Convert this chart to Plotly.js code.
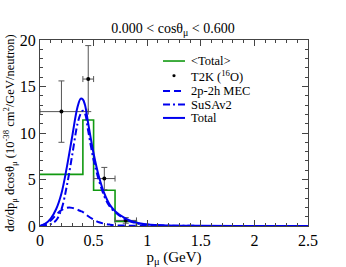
<!DOCTYPE html>
<html><head><meta charset="utf-8">
<script src="https://cdn.plot.ly/plotly-3.0.1.min.js"></script>
<style>html,body{margin:0;padding:0;background:#fff}#c{width:346px;height:267px}</style>
</head><body><div id="c"></div>
<script>
// Bin-averaged total (histogram)
const binEdges = [0, 0.4, 0.5, 0.7, 0.9];
const binTotal = [5.55, 11.4, 3.85, 0.5];
// T2K data
const dataX = [0.2, 0.45, 0.6, 0.8];
const dataY = [12.3, 15.8, 5.1, 0.6];
const dataErrYPlus = [3.3, 3.6, 1.2, 0.3];
const dataErrYMinus = [3.3, 3.5, 1.2, 0.3];
const dataErrXPlus = [0.25, 0.05, 0.1, 0.1];
const dataErrXMinus = [0.2, 0.05, 0.1, 0.1];
// Model curves
const pmu = [0, 0.05, 0.1, 0.15, 0.2, 0.25, 0.3, 0.35, 0.38, 0.4, 0.42, 0.45, 0.5, 0.55, 0.6, 0.65, 0.7, 0.8, 0.9, 1.0, 1.2, 1.5, 2.0, 2.5];
const mec = [0, 0.2, 0.6, 1.2, 1.7, 1.95, 1.95, 1.75, 1.6, 1.5, 1.35, 1.05, 0.7, 0.4, 0.25, 0.15, 0.08, 0.04, 0.02, 0.01, 0, 0, 0, 0];
const susa = [0, 0.05, 0.2, 0.6, 1.8, 4.3, 7.6, 11.0, 12.1, 12.4, 12.1, 10.2, 7.1, 4.9, 3.2, 2.1, 1.5, 0.7, 0.3, 0.15, 0.05, 0.01, 0, 0];
const total = [0, 0.25, 0.8, 1.8, 3.5, 6.3, 9.6, 12.8, 13.7, 13.6, 13.0, 11.0, 7.8, 5.3, 3.5, 2.3, 1.6, 0.8, 0.35, 0.17, 0.06, 0.02, 0, 0];
// Legend labels
const legendNames = ['&lt;Total&gt;', 'T2K (<sup>16</sup>O)', '2p-2h MEC', 'SuSAv2', 'Total'];

const hx = [], hy = [];
for (let i = 0; i < binTotal.length; i++) { hx.push(binEdges[i], binEdges[i+1]); hy.push(binTotal[i], binTotal[i]); }
hx.push(binEdges[binEdges.length-1]); hy.push(0);

const serif = "'Liberation Serif', 'Times New Roman', Times, serif";
const green = '#119911', blue = '#0000ee';
const dashMEC = '7px,4px', dashSuSA = '7px,3px,2px,3px';
const traces = [
  {x: hx, y: hy, mode: 'lines', name: legendNames[0], line: {color: green, width: 1.6}},
  {x: dataX, y: dataY, mode: 'markers', name: legendNames[1], marker: {color: 'black', size: 4},
   error_y: {type: 'data', array: dataErrYPlus, arrayminus: dataErrYMinus, color: '#555', thickness: 1, width: 3},
   error_x: {type: 'data', array: dataErrXPlus, arrayminus: dataErrXMinus, color: '#555', thickness: 1, width: 3}},
  {x: pmu, y: mec, mode: 'lines', name: legendNames[2], line: {color: blue, width: 2, dash: dashMEC, shape: 'spline'}},
  {x: pmu, y: susa, mode: 'lines', name: legendNames[3], line: {color: blue, width: 2, dash: dashSuSA, shape: 'spline'}},
  {x: pmu, y: total, mode: 'lines', name: legendNames[4], line: {color: blue, width: 2, shape: 'spline'}}
];

// Hand-placed legend (compact spacing as in the reference)
const rowY = [0.887, 0.808, 0.726, 0.653, 0.581];
const lx0 = 0.459, lx1 = 0.541, tx = 0.56;
const shapes = [], annotations = [];
const legStyles = [
  {color: green, width: 1.6, dash: 'solid'}, null,
  {color: blue, width: 2, dash: dashMEC}, {color: blue, width: 2, dash: dashSuSA}, {color: blue, width: 2, dash: 'solid'}
];
legStyles.forEach((s, i) => {
  if (s) shapes.push({type: 'line', xref: 'paper', yref: 'paper', x0: lx0, x1: lx1, y0: rowY[i], y1: rowY[i], line: s});
  annotations.push({xref: 'paper', yref: 'paper', x: tx, y: rowY[i], xanchor: 'left', yanchor: 'middle', showarrow: false,
    text: legendNames[i], font: {size: 12.5, family: serif, color: 'black'}, borderpad: 0});
});
shapes.push({type: 'circle', xref: 'paper', yref: 'paper', x0: 0.5 - 0.006, x1: 0.5 + 0.006, y0: rowY[1] - 0.008, y1: rowY[1] + 0.008,
  fillcolor: 'black', line: {width: 0}});

const layout = {
  width: 346, height: 267,
  margin: {l: 40, r: 38, t: 40, b: 41},
  paper_bgcolor: 'white', plot_bgcolor: 'white',
  font: {family: serif, color: 'black'},
  title: {text: '0.000 &lt; cosθ<sub>μ</sub> &lt; 0.600', font: {size: 14, family: serif}, x: 0.5, xanchor: 'center', y: 0.893, yanchor: 'middle', yref: 'container'},
  showlegend: false,
  shapes: shapes, annotations: annotations,
  xaxis: {range: [0, 2.5], tickvals: [0, 0.5, 1, 1.5, 2, 2.5], ticktext: ['0', '0.5', '1', '1.5', '2', '2.5'],
    ticks: 'inside', ticklen: 6, tickcolor: '#444', mirror: 'ticks', showline: true, linecolor: '#444', linewidth: 1,
    showgrid: false, zeroline: false, tickfont: {size: 16, family: serif},
    minor: {dtick: 0.1, ticks: 'inside', ticklen: 3, tickcolor: '#444', showgrid: false},
    title: {text: 'p<sub>μ</sub> (GeV)', font: {size: 15, family: serif}, standoff: 2}},
  yaxis: {range: [0, 20], tickvals: [0, 5, 10, 15, 20], ticks: 'inside', ticklen: 6, tickcolor: '#444', mirror: 'ticks',
    showline: true, linecolor: '#444', linewidth: 1, showgrid: false, zeroline: false, tickfont: {size: 16, family: serif},
    minor: {dtick: 1, ticks: 'inside', ticklen: 3, tickcolor: '#444', showgrid: false},
    title: {text: 'dσ/dp<sub>μ</sub> dcosθ<sub>μ</sub> (10<sup>-38</sup> cm<sup>2</sup>/GeV/neutron)', font: {size: 12.5, family: serif}, standoff: 2}}
};
Plotly.newPlot('c', traces, layout, {displayModeBar: false, staticPlot: true});
</script></body></html>
